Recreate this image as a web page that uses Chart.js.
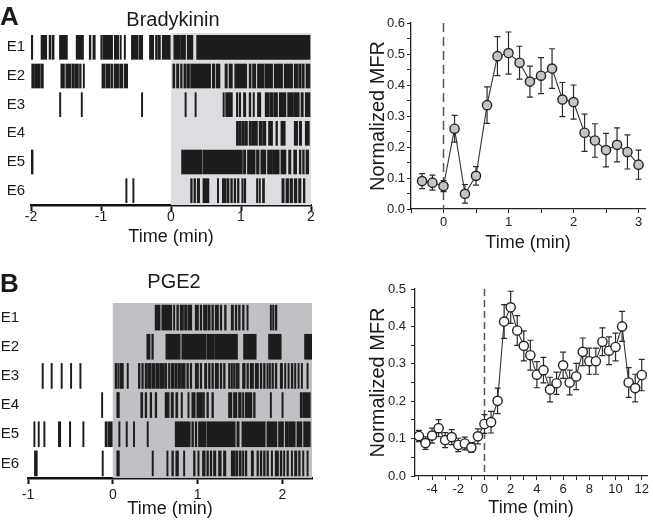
<!DOCTYPE html>
<html>
<head>
<meta charset="utf-8">
<script src="https://cdn.jsdelivr.net/npm/chart.js@4.4.1/dist/chart.umd.min.js"></script>
<style>
  body { margin: 0; background: #fff; }
  #fig { position: relative; width: 653px; height: 524px; overflow: hidden;
         font-family: "Liberation Sans", Arial, sans-serif; color: #1a1a1a; }
  canvas { position: absolute; }
  .lbl { position: absolute; line-height: 1; white-space: nowrap; }
  .panel { font-size: 26px; font-weight: bold; }
  .title { font-size: 20px; transform: translateX(-50%); }
</style>
</head>
<body>
<div id="fig">
  <canvas id="rasterA" width="330" height="255" style="left:0;top:0;width:330px;height:255px"></canvas>
  <canvas id="lineA" width="313" height="260" style="left:340px;top:0;width:313px;height:260px"></canvas>
  <canvas id="rasterB" width="330" height="250" style="left:0;top:270px;width:330px;height:250px"></canvas>
  <canvas id="lineB" width="313" height="264" style="left:340px;top:260px;width:313px;height:264px"></canvas>
  <div class="lbl panel" style="left:0;top:3px">A</div>
  <div class="lbl panel" style="left:0;top:270px">B</div>
  <div class="lbl title" style="left:173px;top:9px">Bradykinin</div>
  <div class="lbl title" style="left:174px;top:271px">PGE2</div>
</div>
<script>
// electrode rows
const rowLabels = ['E1', 'E2', 'E3', 'E4', 'E5', 'E6'];

// Bradykinin raster: spike / burst intervals in min, [start, end]
const rasterA_E1 = [[-1.995,-1.975],[-1.857,-1.775],[-1.742,-1.713],[-1.695,-1.670],[-1.594,-1.480],[-1.355,-1.250],
  [-1.168,-1.144],[-1.116,-1.082],[-1.001,-0.985],[-0.975,-0.834],[-0.810,-0.748],[-0.710,-0.710],[-0.667,-0.650],
  [-0.566,-0.476],[-0.461,-0.404],[-0.308,-0.247],[-0.222,-0.198],[-0.189,-0.151],[-0.126,-0.010],[0.040,0.136],
  [0.146,0.208],[0.232,0.313],[0.366,1.986]];
const rasterA_E2 = [[-1.99,-1.95],[-1.943,-1.871],[-1.861,-1.823],[-1.574,-1.522],[-1.503,-1.431],[-1.417,-1.379],
  [-1.369,-1.322],[-1.307,-1.283],[-1.25,-1.236],[-0.987,-0.939],[-0.925,-0.867],[-0.853,-0.834],[-0.815,-0.748],
  [-0.734,-0.686],[-0.667,-0.619],[0.026,0.055],[0.079,0.112],[0.136,0.160],[0.184,0.218],[0.232,0.265],[0.280,0.566],
  [0.590,0.628],[0.648,0.700],[0.771,0.805],[0.829,0.877],[0.910,1.082],[1.116,1.144],[1.164,1.211],[1.235,1.331],
  [1.345,1.451],[1.474,1.594],[1.617,1.737],[1.760,1.809],[1.823,1.857],[1.871,1.904],[1.928,1.986]];
const rasterA_E3 = [[-1.574,-1.574],[-1.283,-1.265],[-0.404,-0.404],[0.218,0.218],[0.361,0.361],[0.743,0.757],
  [0.781,0.877],[0.934,0.949],[0.972,0.996],[1.035,1.068],[1.116,1.140],[1.173,1.187],[1.235,1.283],[1.345,1.40],
  [1.41,1.46],[1.47,1.522],[1.546,1.642],[1.666,1.74],[1.75,1.832],[1.857,1.890],[1.918,1.986]];
const rasterA_E4 = [[0.934,0.965],[0.975,1.005],[1.015,1.050],[1.060,1.092],[1.116,1.150],[1.160,1.235],[1.259,1.300],
  [1.310,1.355],[1.393,1.451],[1.498,1.522],[1.570,1.632],[1.760,1.809],[1.832,1.866],[1.918,1.976]];
const rasterA_E5 = [[-2.0,-1.97],[0.151,0.447],[0.462,1.020],[1.035,1.068],[1.092,1.202],[1.221,1.259],[1.283,1.355],
  [1.379,1.451],[1.460,1.546],[1.570,1.642],[1.680,1.713],[1.752,1.795],[1.832,1.857],[1.880,1.904],[1.928,1.967]];
const rasterA_E6 = [[-0.628,-0.628],[-0.528,-0.528],[0.280,0.303],[0.327,0.351],[0.375,0.409],[0.456,0.542],
  [0.662,0.676],[0.733,0.781],[0.796,0.829],[0.853,0.877],[0.901,0.925],[0.949,0.972],[1.011,1.030],[1.044,1.068],
  [1.221,1.240],[1.259,1.273],[1.307,1.336],[1.584,1.617],[1.642,1.680],[1.699,1.737],[1.760,1.799],[1.823,1.857],
  [1.890,1.914]];

// PGE2 raster
const rasterB_E1 = [[0.499,0.558],[0.578,0.696],[0.716,0.728],[0.755,0.775],[0.795,0.834],[0.846,0.873],[0.885,0.932],
  [0.972,1.011],[1.031,1.050],[1.070,1.109],[1.121,1.149],[1.168,1.188],[1.208,1.247],[1.267,1.286],[1.318,1.338],
  [1.397,1.424],[1.444,1.464],[1.483,1.503],[1.530,1.550],[1.582,1.593],[1.857,1.869],[1.885,1.896],[1.916,1.936]];
const rasterB_E2 = [[0.401,0.440],[0.460,0.479],[0.626,0.795],[0.814,1.100],[1.110,1.200],[1.210,1.471],[1.542,1.692],
  [1.837,1.987],[2.262,2.350]];
const rasterB_E3 = [[-0.819,-0.819],[-0.713,-0.713],[-0.595,-0.595],[-0.484,-0.484],[-0.374,-0.374],[0.027,0.047],
  [0.059,0.074],[0.086,0.106],[0.125,0.125],[0.184,0.184],[0.302,0.322],[0.342,0.361],[0.381,0.40],[0.41,0.45],
  [0.46,0.50],[0.51,0.55],[0.56,0.60],[0.61,0.637],[0.657,0.676],[0.690,0.720],[0.730,0.760],[0.770,0.80],[0.81,0.854],
  [0.873,0.893],[0.913,0.932],[0.972,1.011],[1.031,1.050],[1.082,1.109],[1.129,1.149],[1.168,1.188],[1.208,1.247],
  [1.267,1.286],[1.306,1.326],[1.365,1.385],[1.397,1.405],[1.424,1.444],[1.456,1.464],[1.475,1.491],[1.530,1.562],
  [1.582,1.601],[1.621,1.660],[1.680,1.719],[1.739,1.759],[1.778,1.798],[1.818,1.829],[1.845,1.857],[1.877,1.896],
  [1.916,1.936],[1.975,2.003],[2.026,2.042],[2.066,2.081],[2.105,2.125],[2.144,2.160],[2.184,2.192],[2.223,2.231],
  [2.290,2.302]];
const rasterB_E4 = [[-0.118,-0.118],[0.047,0.066],[0.078,0.078],[0.330,0.354],[0.381,0.401],[0.440,0.460],[0.499,0.519],
  [0.617,0.665],[0.688,0.716],[0.743,0.767],[0.806,0.822],[0.885,0.901],[0.932,0.972],[0.991,1.050],[1.058,1.082],
  [1.109,1.129],[1.168,1.188],[1.365,1.405],[1.424,1.464],[1.483,1.515],[1.530,1.542],[1.562,1.641],[1.660,1.680],
  [1.857,1.869],[1.995,2.007],[2.211,2.231],[2.239,2.329]];
const rasterB_E5 = [[-0.917,-0.917],[-0.866,-0.866],[-0.799,-0.799],[-0.642,-0.614],[-0.512,-0.496],[-0.339,-0.339],
  [-0.091,-0.064],[-0.052,0.0],[0.07,0.085],[0.157,0.170],[0.243,0.255],[0.420,0.420],[0.736,0.913],[0.932,0.952],
  [0.972,0.991],[1.011,1.097],[1.109,1.444],[1.464,1.491],[1.523,1.798],[1.818,1.936],[1.955,2.014],[2.034,2.073],
  [2.081,2.152],[2.172,2.231],[2.251,2.329]];
const rasterB_E6 = [[-0.909,-0.909],[-0.890,-0.890],[-0.111,-0.111],[0.047,0.066],[0.078,0.078],[0.479,0.479],
  [0.637,0.649],[0.696,0.716],[0.743,0.775],[0.834,0.846],[0.952,0.972],[1.003,1.019],[1.058,1.090],[1.109,1.129],
  [1.149,1.168],[1.188,1.216],[1.247,1.279],[1.306,1.334],[1.397,1.444],[1.452,1.475],[1.491,1.515],[1.530,1.542],
  [1.562,1.582],[1.633,1.660],[1.700,1.719],[1.739,1.759],[1.778,1.798],[1.818,1.837],[1.869,1.885],[1.916,1.955],
  [1.975,1.995],[2.014,2.026],[2.054,2.073],[2.105,2.121],[2.144,2.172],[2.192,2.211],[2.239,2.251],[2.290,2.302]];

// normalized mean firing rate, mean and SEM
const timeA = [-0.33,-0.17,0,0.17,0.33,0.5,0.67,0.83,1,1.17,1.33,1.5,1.67,1.83,2,2.17,2.33,2.5,2.67,2.83,3];
const mfrA = [0.090,0.085,0.074,0.259,0.049,0.107,0.335,0.493,0.503,0.472,0.411,0.430,0.453,0.353,0.345,0.246,0.221,
  0.190,0.207,0.184,0.143];
const semA = [0.024,0.024,0.018,0.043,0.03,0.03,0.059,0.063,0.068,0.053,0.05,0.058,0.064,0.055,0.055,0.06,0.054,0.054,
  0.055,0.055,0.047];

const timeB = [-5,-4.5,-4,-3.5,-3,-2.5,-2,-1.5,-1,-0.5,0,0.5,1,1.5,2,2.5,3,3.5,4,4.5,5,5.5,6,6.5,7,7.5,8,8.5,9,9.5,
  10,10.5,11,11.5,12];
const mfrB = [0.107,0.088,0.108,0.128,0.096,0.104,0.083,0.087,0.076,0.106,0.139,0.144,0.201,0.413,0.451,0.389,0.348,
  0.323,0.271,0.283,0.231,0.248,0.296,0.250,0.266,0.332,0.307,0.307,0.359,0.335,0.345,0.400,0.250,0.235,0.270];
const semB = [0.015,0.017,0.02,0.023,0.02,0.02,0.018,0.017,0.013,0.02,0.025,0.029,0.034,0.045,0.043,0.04,0.04,0.04,
  0.035,0.034,0.033,0.03,0.035,0.033,0.035,0.037,0.035,0.035,0.037,0.037,0.037,0.04,0.04,0.037,0.042];

Chart.defaults.font.family = '"Liberation Sans", Arial, sans-serif';
Chart.defaults.color = '#1a1a1a';

// gray band for the drug application
const shade = {
  id: 'shade',
  beforeDatasetsDraw(chart, args, opts) {
    const { ctx, chartArea, scales } = chart;
    const x0 = scales.x.getPixelForValue(0);
    ctx.save();
    ctx.fillStyle = opts.color;
    ctx.fillRect(x0, chartArea.top, chartArea.right - x0, chartArea.bottom - chartArea.top);
    ctx.restore();
  }
};

function errorBars(times, means, sem, dash) {
  return {
    id: 'errorBars',
    beforeDatasetsDraw(chart) {
      const { ctx, chartArea, scales: { x, y } } = chart;
      ctx.save();
      const x0 = x.getPixelForValue(0);
      ctx.strokeStyle = '#555';
      ctx.lineWidth = 1.5;
      ctx.setLineDash(dash);
      ctx.beginPath();
      ctx.moveTo(x0, chartArea.top);
      ctx.lineTo(x0, chartArea.bottom);
      ctx.stroke();
      ctx.setLineDash([]);
      ctx.strokeStyle = '#2a2a2a';
      ctx.lineWidth = 1.2;
      times.forEach((t, i) => {
        const px = x.getPixelForValue(t);
        const hi = y.getPixelForValue(means[i] + sem[i]);
        const lo = y.getPixelForValue(means[i] - sem[i]);
        ctx.beginPath();
        ctx.moveTo(px, hi); ctx.lineTo(px, lo);
        ctx.moveTo(px - 3, hi); ctx.lineTo(px + 3, hi);
        ctx.moveTo(px - 3, lo); ctx.lineTo(px + 3, lo);
        ctx.stroke();
      });
      ctx.restore();
    }
  };
}

function rasterChart(id, rows, c) {
  new Chart(document.getElementById(id), {
    type: 'bar',
    data: {
      labels: rowLabels,
      datasets: rows.map((segs, r) => ({
        data: segs.map((s) => ({ x: [s[0], s[1]], y: rowLabels[r] })),
        backgroundColor: '#1d1d1d',
        borderWidth: 0,
        grouped: false,
        barThickness: c.barH,
        minBarLength: 1.3,
      })),
    },
    options: {
      indexAxis: 'y',
      responsive: false,
      animation: false,
      devicePixelRatio: 1,
      layout: { padding: c.pad },
      plugins: { legend: { display: false }, tooltip: { enabled: false }, shade: { color: c.shade } },
      scales: {
        x: {
          type: 'linear', min: c.xMin, max: c.xMax,
          afterFit: (s) => { s.height = c.xH; s.paddingLeft = 0; s.paddingRight = 0; },
          ticks: { stepSize: 1, includeBounds: false, maxRotation: 0, padding: c.xTickPad, font: { size: 14 }, color: '#1a1a1a' },
          grid: { drawOnChartArea: false, tickLength: 6, tickWidth: 2, tickColor: '#111' },
          border: { color: '#111', width: 2.5 },
          title: { display: true, text: 'Time (min)', font: { size: 18 }, color: '#1a1a1a', padding: { top: 0, bottom: c.titlePad } },
        },
        y: {
          type: 'category',
          afterFit: (s) => { s.width = c.yW; s.paddingTop = 0; s.paddingBottom = 0; },
          grid: { display: false, drawTicks: false },
          border: { display: false },
          ticks: { padding: c.yTickPad, font: { size: 15 }, color: '#1a1a1a' },
        },
      },
    },
    plugins: [shade],
  });
}

function lineChart(id, times, means, sem, c) {
  new Chart(document.getElementById(id), {
    type: 'scatter',
    data: {
      datasets: [{
        data: times.map((t, i) => ({ x: t, y: means[i] })),
        showLine: true,
        borderColor: '#333',
        borderWidth: 1.1,
        pointRadius: 4.6,
        pointBackgroundColor: c.fill,
        pointBorderColor: '#222',
        pointBorderWidth: 1.4,
      }],
    },
    options: {
      responsive: false,
      animation: false,
      devicePixelRatio: 1,
      layout: { padding: c.pad },
      plugins: { legend: { display: false }, tooltip: { enabled: false } },
      scales: {
        x: {
          type: 'linear', min: c.xMin, max: c.xMax,
          afterFit: (s) => { s.height = c.xH; s.paddingLeft = 0; s.paddingRight = 0; },
          ticks: { stepSize: c.xStep, includeBounds: false, autoSkip: false, maxTicksLimit: 100, maxRotation: 0,
                   padding: 2, font: { size: 13 }, color: '#222', callback: c.xLabel },
          grid: { drawOnChartArea: false, tickLength: 4, tickWidth: 1, tickColor: '#222' },
          border: { color: '#222', width: 1.3 },
          title: { display: true, text: 'Time (min)', font: { size: 18 }, color: '#1a1a1a', padding: { top: 0, bottom: c.titlePad } },
        },
        y: {
          min: 0, max: c.yMax,
          afterFit: (s) => { s.width = c.yW; s.paddingTop = 0; s.paddingBottom = 0; },
          ticks: { stepSize: 0.05, includeBounds: false, autoSkip: false, maxTicksLimit: 100, padding: c.yTickPad,
                   font: { size: 13 }, color: '#222',
                   callback: (v) => (Math.abs(v * 10 - Math.round(v * 10)) < 1e-6 ? v.toFixed(1) : '') },
          grid: { drawOnChartArea: false, tickLength: 4, tickWidth: 1, tickColor: '#222' },
          border: { color: '#222', width: 1.3 },
          title: { display: true, text: 'Normalized MFR', font: { size: 20 }, color: '#1a1a1a', padding: { top: 26, bottom: 0 } },
        },
      },
    },
    plugins: [errorBars(times, means, sem, c.dash)],
  });
}

rasterChart('rasterA', [rasterA_E1, rasterA_E2, rasterA_E3, rasterA_E4, rasterA_E5, rasterA_E6], {
  xMin: -2, xMax: 2, barH: 24, shade: '#dcdde0',
  pad: { top: 33, right: 19, left: 0, bottom: 0 }, xH: 50, yW: 31, xTickPad: -2, yTickPad: 6, titlePad: 7,
});
rasterChart('rasterB', [rasterB_E1, rasterB_E2, rasterB_E3, rasterB_E4, rasterB_E5, rasterB_E6], {
  xMin: -1, xMax: 2.35, barH: 25, shade: '#c0c1c4',
  pad: { top: 33, right: 18, left: 0, bottom: 0 }, xH: 42, yW: 28, xTickPad: 3, yTickPad: 9, titlePad: 0,
});
lineChart('lineA', timeA, mfrA, semA, {
  xMin: -0.5, xMax: 3.1, xStep: 0.5, yMax: 0.6, fill: '#c4c4c4', dash: [9, 5],
  xLabel: (v) => (Number.isInteger(v) ? String(v) : ''),
  pad: { top: 23, right: 8, left: 0, bottom: 0 }, xH: 51, yW: 71, yTickPad: 2, titlePad: 6,
});
lineChart('lineB', timeB, mfrB, semB, {
  xMin: -5.3, xMax: 12.4, xStep: 1, yMax: 0.5, fill: '#ffffff', dash: [7, 4],
  xLabel: (v) => (Number.isInteger(v) && v % 2 === 0 ? String(v) : ''),
  pad: { top: 29, right: 2, left: 0, bottom: 0 }, xH: 48, yW: 75, yTickPad: 5, titlePad: 5,
});
</script>
</body>
</html>
